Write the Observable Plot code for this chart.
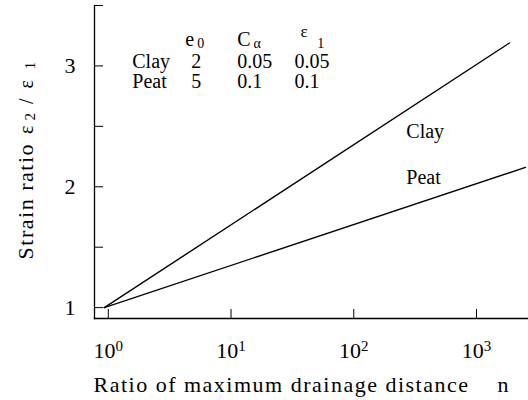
<!DOCTYPE html>
<html>
<head>
<meta charset="utf-8">
<script src="https://cdn.jsdelivr.net/npm/d3@7"></script>
<script src="https://cdn.jsdelivr.net/npm/@observablehq/plot@0.6"></script>
<style>
  html, body { margin: 0; padding: 0; background: white; }
</style>
</head>
<body>
<div id="chart"></div>
<script>
// Data
const soils = ["Clay", "Peat"];
const e0Values = [2, 5];
const cAlphaValues = ["0.05", "0.1"];
const eps1Values = ["0.05", "0.1"];
const nStart = [1, 1];
const nEnd = [2000, 2700];
const ratioStart = [1, 1];
const ratioEnd = [3.19, 2.16];
const xTicks = [1, 10, 100, 1000];
const yTicks = [1, 1.5, 2, 2.5, 3, 3.5];
const xLabel = "Ratio of maximum drainage distance";
const xLabelVar = "n";
const yLabel = "Strain ratio";

const lineData = soils.flatMap((s, i) => [
  {soil: s, n: nStart[i], r: ratioStart[i]},
  {soil: s, n: nEnd[i], r: ratioEnd[i]}
]);

const serif = "Liberation Serif";
const F = {fontFamily: serif};

// table layout (annotation positions in data space)
const colName = 1.69, colE0 = 5.62, colCa = 12.1, colEps = 35.4;
const rowY = [3.036, 2.871];
const tableRows = soils.map((s, i) => ({s, e0: e0Values[i], ca: cAlphaValues[i], eps: eps1Values[i], y: rowY[i]}));

const chart = Plot.plot({
  width: 528,
  height: 400,
  marginLeft: 94,
  marginRight: 0,
  marginTop: 5,
  marginBottom: 82,
  style: {fontFamily: serif, fontSize: "22px", color: "black", background: "white", overflow: "visible"},
  x: {type: "log", domain: [0.832, 2860]},
  y: {domain: [0.91, 3.5]},
  marks: [
    Plot.frame({anchor: "left", stroke: "black", strokeWidth: 1.3}),
    Plot.frame({anchor: "bottom", stroke: "black", strokeWidth: 1.3}),
    Plot.axisX({
      ...F, ticks: xTicks, tickSize: -9, tickPadding: 33, dx: 4,
      tickFormat: d => "10^" + Math.round(Math.log10(d)),
      fontSize: 22, label: null
    }),
    Plot.axisY({
      ...F, ticks: yTicks, tickSize: -9, tickPadding: 28,
      tickFormat: d => Number.isInteger(d) ? String(d) : "",
      fontSize: 22, label: null
    }),
    // axis titles
    Plot.text([xLabel + "    " + xLabelVar], {...F, frameAnchor: "bottom-left", textAnchor: "start", lineAnchor: "bottom", dx: -1, dy: 73, fontSize: 22}),
    Plot.text([yLabel], {...F, frameAnchor: "left", textAnchor: "middle", lineAnchor: "bottom", rotate: -90, dx: -62, dy: -1.5, fontSize: 22}),
    Plot.line(lineData, {x: "n", y: "r", z: "soil", stroke: "black", strokeWidth: 1.4}),
    // line labels
    Plot.text([{t: soils[0], n: 289, r: 2.458}, {t: soils[1], n: 289, r: 2.078}],
      {...F, x: "n", y: "r", text: "t", textAnchor: "start", lineAnchor: "middle", fontSize: 20}),
    // table header
    Plot.text([{t: "e", n: 4.57, r: 3.218}, {t: "C", n: 12.1, r: 3.218}],
      {...F, x: "n", y: "r", text: "t", textAnchor: "start", lineAnchor: "middle", fontSize: 20}),
    Plot.text([{t: "ε", n: 39.6, r: 3.281}],
      {...F, x: "n", y: "r", text: "t", textAnchor: "start", lineAnchor: "middle", fontSize: 17}),
    Plot.text([{t: "0", n: 5.73, r: 3.186}, {t: "α", n: 16.4, r: 3.186}, {t: "1", n: 54.4, r: 3.186}],
      {...F, x: "n", y: "r", text: "t", textAnchor: "start", lineAnchor: "middle", fontSize: 14}),
    // table rows
    Plot.text(tableRows, {...F, x: () => colName, y: "y", text: "s", textAnchor: "start", lineAnchor: "middle", fontSize: 20}),
    Plot.text(tableRows, {...F, x: () => colE0, y: "y", text: d => String(d.e0), textAnchor: "middle", lineAnchor: "middle", fontSize: 20}),
    Plot.text(tableRows, {...F, x: () => colCa, y: "y", text: "ca", textAnchor: "start", lineAnchor: "middle", fontSize: 20}),
    Plot.text(tableRows, {...F, x: () => colEps, y: "y", text: "eps", textAnchor: "start", lineAnchor: "middle", fontSize: 20})
  ]
});

const svg = d3.select(chart);
svg.selectAll("text").style("font-family", serif);

svg.selectAll("text").each(function() {
  const t = d3.select(this);
  const s = t.text();
  if (/^10\^\d$/.test(s)) {
    // x tick labels: 10 with a raised exponent
    const [base, exp] = s.split("^");
    t.text(null);
    t.append("tspan").text(base);
    t.append("tspan").attr("dy", "-0.45em").style("font-size", "15px").text(exp);
  } else if (s.startsWith(xLabel)) {
    t.style("letter-spacing", "1.5px");
  } else if (s === yLabel) {
    // y title: Strain ratio  ε2 / ε1
    t.text(null);
    t.append("tspan").style("letter-spacing", "1.5px").text(s);
    t.append("tspan").style("font-size", "20px").attr("dx", 9).text("ε");
    t.append("tspan").style("font-size", "15px").attr("dx", 5).attr("dy", 2).text("2");
    t.append("tspan").style("font-size", "20px").attr("dx", 9).attr("dy", -2).text("/");
    t.append("tspan").style("font-size", "20px").attr("dx", 10).text("ε");
    t.append("tspan").style("font-size", "15px").attr("dx", 11).attr("dy", 2).text("1");
  }
});

document.getElementById("chart").appendChild(chart);
</script>
</body>
</html>
